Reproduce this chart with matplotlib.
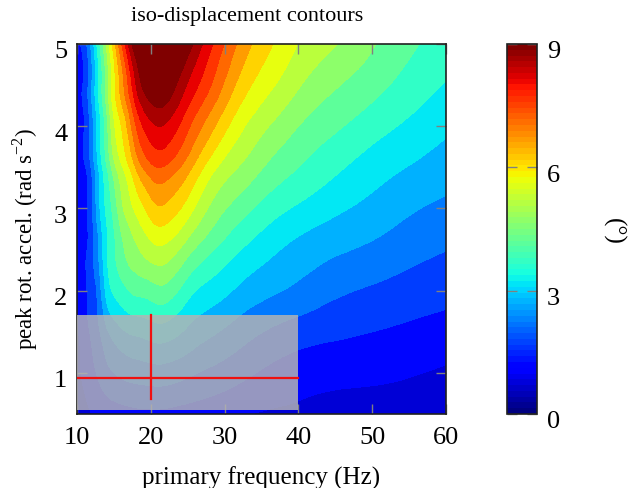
import matplotlib
matplotlib.use('Agg')
import matplotlib.pyplot as plt
import matplotlib.tri as mtri
import numpy as np
from matplotlib.cm import ScalarMappable
from matplotlib.colors import Normalize
from matplotlib.patches import Rectangle
from matplotlib.transforms import ScaledTranslation

plt.rcParams['font.family'] = ['Liberation Serif', 'DejaVu Serif']
plt.rcParams['mathtext.fontset'] = 'custom'
plt.rcParams['mathtext.rm'] = 'Liberation Serif'
plt.rcParams['font.size'] = 16

# values
freq = [10, 11, 12, 13, 14, 15, 16, 18, 20, 21, 22, 25, 28, 32, 36, 40, 45, 50, 55, 60]
accel = [0.5, 1, 1.5, 2, 2.5, 3, 3.5, 4, 4.5, 5]
disp_a05 = [.30, .40, .50, .60, .70, .78, .82, .88, .90, .90, .88, .80, .72, .55, .45, .40, .25, .22, .20, .15]
disp_a10 = [.40, .60, .85, 1.10, 1.35, 1.50, 1.60, 1.72, 1.78, 1.80, 1.78, 1.60, 1.40, 1.15, .90, .75, .67, .62, .54, .43]
disp_a15 = [.45, .75, 1.10, 1.45, 1.90, 2.20, 2.40, 2.60, 2.72, 2.78, 2.75, 2.40, 2.10, 1.75, 1.45, 1.25, 1.10, 1.00, .90, .80]
disp_a20 = [.50, .85, 1.25, 1.75, 2.65, 3.08, 3.30, 3.62, 3.75, 3.85, 3.82, 3.20, 2.80, 2.40, 2.10, 1.88, 1.60, 1.43, 1.28, 1.16]
disp_a25 = [.52, .85, 1.32, 2.05, 2.90, 3.40, 3.85, 4.40, 4.80, 4.90, 4.85, 4.20, 3.60, 3.03, 2.63, 2.33, 2.08, 1.90, 1.68, 1.51]
disp_a30 = [.55, .85, 1.42, 2.40, 3.10, 3.70, 4.35, 5.12, 5.75, 5.93, 5.88, 5.25, 4.43, 3.75, 3.25, 2.92, 2.60, 2.34, 2.07, 1.88]
disp_a35 = [.60, .92, 1.60, 2.60, 3.45, 4.30, 4.90, 6.05, 6.85, 7.00, 6.93, 6.20, 5.25, 4.47, 3.90, 3.50, 3.10, 2.75, 2.48, 2.25]
disp_a40 = [.65, 1.00, 1.80, 2.80, 3.80, 4.90, 5.50, 7.00, 7.85, 8.00, 7.93, 7.10, 6.20, 5.15, 4.50, 4.00, 3.58, 3.22, 2.90, 2.60]
disp_a45 = [.78, 1.12, 2.00, 3.10, 4.20, 5.35, 6.20, 8.00, 8.90, 9.05, 8.95, 7.95, 7.05, 5.85, 5.12, 4.55, 4.05, 3.68, 3.30, 2.96]
disp_a50 = [.90, 1.25, 2.20, 3.40, 4.60, 5.80, 6.95, 9.00, 9.95, 10.1, 9.95, 8.80, 7.65, 6.40, 5.58, 4.98, 4.53, 4.05, 3.60, 3.28]
levels = np.arange(0, 9.5, 0.5)

box_freq = [10, 40]
box_accel = [0.55, 1.70]
cross_freq = 20
cross_accel = 0.94
cross_accel_low = 0.68

disp = np.array([disp_a05, disp_a10, disp_a15, disp_a20, disp_a25,
                 disp_a30, disp_a35, disp_a40, disp_a45, disp_a50])

fig = plt.figure(figsize=(6.28, 4.89), dpi=100)
ax = fig.add_axes([77/628, 1-415/489, 369/628, 370/489])

#each band takes the colour just above its upper level
band_colors = [plt.cm.jet(min(l/9 + 0.02, 1.0)) for l in levels[1:]]
#smooth contours with matplotlib's own triangulation refiner
ff, aa = np.meshgrid(freq, accel)
tri = mtri.Triangulation(ff.ravel(), aa.ravel())
tri_fine, disp_fine = mtri.UniformTriRefiner(tri).refine_field(disp.ravel(), subdiv=3)
ax.tricontourf(tri_fine, np.clip(disp_fine, 0.01, 8.99), levels=levels, colors=band_colors)
ax.set_xlim(10, 60)
ax.set_ylim(0.5, 5)
ax.set_xticks([10, 20, 30, 40, 50, 60])
ax.set_yticks([1, 2, 3, 4, 5])
ax.tick_params(direction='in', length=7, width=1, color='#808080', top=True, right=True,
               labelsize=19, pad=7)
ax.tick_params(axis='x', pad=9)
for s in ax.spines.values():
    s.set_linewidth(1.2)
    s.set_color('#202020')

ax.add_patch(Rectangle((box_freq[0], box_accel[0]), box_freq[1]-box_freq[0], box_accel[1]-box_accel[0],
                       facecolor='#b4b4b4', edgecolor='none', alpha=0.84, zorder=3))
ax.plot(box_freq, [cross_accel, cross_accel], color='#f01010', lw=1.6, zorder=4)
ax.plot([cross_freq, cross_freq], [cross_accel_low, box_accel[1]], color='#f01010', lw=1.6, zorder=4)

ax.set_xlabel('primary frequency (Hz)', fontsize=18, labelpad=12)
ax.set_ylabel('peak rot. accel. (rad s$^{-2}$)', fontsize=16.5, labelpad=10)
ax.yaxis.label.set_y(0.475)
fig.text(247/628, 1-17/489, 'iso-displacement contours', fontsize=16, ha='center', va='center')

#colorbar
cax = fig.add_axes([507/628, 1-415/489, 30/628, 370/489])
sm = ScalarMappable(Normalize(0, 9), plt.get_cmap('jet', 64))
cb = fig.colorbar(sm, cax=cax)
cb.set_ticks([0, 3, 6, 9])
cax.tick_params(direction='in', length=7, width=1, color='#808080', labelsize=19, left=True, right=True, pad=7)
cb.outline.set_linewidth(1.2)
cb.outline.set_edgecolor('#202020')
fig.text(613/628, 1-231/489, '(°)', rotation=270, fontsize=18, ha='center', va='center')

#tick numbers sit a little below their ticks in the reference
shift = ScaledTranslation(0, -5/100, fig.dpi_scale_trans)
for lab in ax.get_yticklabels() + cax.get_yticklabels():
    lab.set_transform(lab.get_transform() + shift)

fig.savefig('out.png', dpi=100)
